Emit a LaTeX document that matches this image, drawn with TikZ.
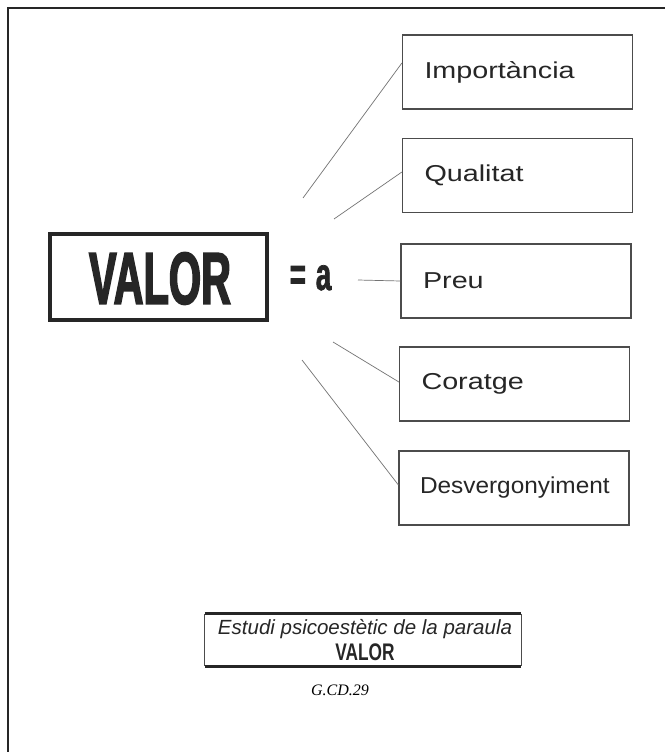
\documentclass[tikz,border=0pt]{standalone}
\usepackage{fontspec}
\setmainfont{Liberation Sans}
\newfontfamily\labelfont[FakeStretch=1.25]{Liberation Sans}
\newfontfamily\labelnarrow[FakeStretch=1.06]{Liberation Sans}
\newfontfamily\bigcond[FakeStretch=0.56,FakeBold=2]{Liberation Sans}
\newfontfamily\eqcond[FakeStretch=0.6,FakeBold=1.5]{Liberation Sans}
\newfontfamily\smallcond[FakeStretch=0.72]{Liberation Sans}
\newfontfamily\tnrfont{Liberation Serif}
\definecolor{ink}{gray}{0.15}
\definecolor{rule}{gray}{0.3}
\definecolor{thin}{gray}{0.45}
\tikzset{
  wordbox/.style={draw=rule, line width=1.2pt, minimum width=230pt, minimum height=74pt,
    text width=186pt, inner xsep=22pt, align=left, text=ink,
    font=\labelfont\fontsize{23}{26}\selectfont},
  link/.style={draw=thin, line width=0.7pt},
}
\begin{document}
\begin{tikzpicture}[x=1pt,y=-1pt]
\useasboundingbox (0,0) rectangle (665,752);
\fill[white] (0,0) rectangle (665,752);
% outer frame (partial)
\draw[line width=2.5pt, ink] (8,752) -- (8,8) -- (665,8);

% VALOR box
\node[draw=ink, line width=4pt, minimum width=217pt, minimum height=86pt, inner sep=0pt] (valor) at (158.5,277) {};
\node[text=ink, font=\bigcond\bfseries\fontsize{74}{80}\selectfont, inner sep=0pt] (valortxt) at (160,278.5) {VALOR};
\node[text=ink, font=\eqcond\bfseries\fontsize{46}{50}\selectfont, inner sep=0pt, anchor=base] (eqa) at (310.5,290) {=\hspace{10pt}a};

% word boxes
\node[wordbox] (imp) at (517.5,72) {Importància};
\node[wordbox] (qual) at (517.5,175.5) {Qualitat};
\node[wordbox] (preu) at (516,281) {Preu};
\node[wordbox] (cor) at (514.5,384) {Coratge};
\node[wordbox, font=\labelnarrow\fontsize{23}{26}\selectfont, inner xsep=21pt, text width=188pt] (desv) at (514,488) {Desvergonyiment};

% free ends of connectors
\coordinate (e1) at (303,198);
\coordinate (e2) at (334,219);
\coordinate (e3) at (358,280);
\coordinate (e4) at (333,342);
\coordinate (e5) at (302,360);

\draw[link] (e1) -- ([yshift=9pt]imp.west);
\draw[link] (e2) -- ([yshift=3.5pt]qual.west);
\draw[link] (e3) -- (preu.west);
\draw[link] (e4) -- ([yshift=2pt]cor.west);
\draw[link] (e5) -- ([yshift=3pt]desv.west);

% bottom caption box
\node[minimum width=316pt, minimum height=52pt, inner sep=0pt] (cap) at (363,640) {};
\draw[rule, line width=1.2pt] (cap.north west) -- (cap.south west);
\draw[rule, line width=1.2pt] (cap.north east) -- (cap.south east);
\draw[ink, line width=2.8pt] (cap.north west) -- (cap.north east);
\draw[ink, line width=2.8pt] (cap.south west) -- (cap.south east);
\node[text=ink, font=\itshape\fontsize{20.5}{24}\selectfont, inner sep=0pt, anchor=base] (capl1) at (365,634) {Estudi psicoestètic de la paraula};
\node[text=ink, font=\smallcond\bfseries\fontsize{24}{26}\selectfont, inner sep=0pt, anchor=base] (capl2) at (365,660) {VALOR};

\node[text=black, font=\tnrfont\itshape\fontsize{16}{18}\selectfont, inner sep=0pt, anchor=base] (code) at (340,695) {G.CD.29};
\end{tikzpicture}
\end{document}
